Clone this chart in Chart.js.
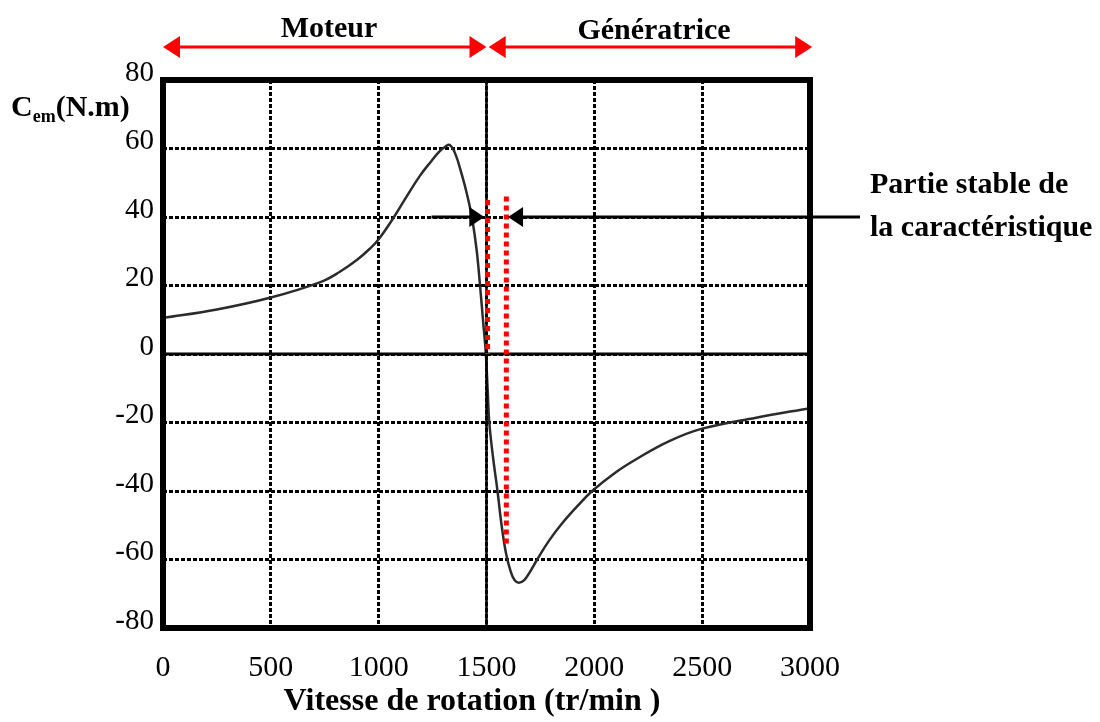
<!DOCTYPE html>
<html>
<head>
<meta charset="utf-8">
<title>Couple électromagnétique</title>
<script src="https://cdn.jsdelivr.net/npm/chart.js@4.4.1/dist/chart.umd.min.js"></script>
<style>
  html, body { margin: 0; padding: 0; background: #fff; }
  #wrap { width: 1100px; height: 722px; }
</style>
</head>
<body>
<div id="wrap"><canvas id="graph1" width="1100" height="722"></canvas></div>
<script>
  const speeds = [0, 250, 500, 730, 820, 900, 960, 1000, 1066, 1130, 1191, 1240, 1280, 1310, 1330, 1355, 1385, 1412,
    1435, 1455, 1470, 1485, 1497, 1505, 1513, 1530, 1551, 1570, 1590, 1612, 1630, 1650, 1675, 1698, 1735,
    1790, 1850, 1920, 1990, 2100, 2200, 2345, 2500, 2750, 3000];
  const torque = [10.5, 13, 16.5, 21, 24, 27.5, 30.8, 33.5, 39.5, 46, 52, 56, 59, 60.6, 61, 58.5, 52.5, 46,
    39, 30, 20, 9, 0, -10, -20, -30, -40, -50, -58, -63.5, -66, -66.8, -66, -64, -60,
    -54.5, -49.5, -44.5, -40, -34.5, -30.5, -25.5, -21.8, -18.6, -15.8];

  const xTicks = [0, 500, 1000, 1500, 2000, 2500, 3000];
  const yTicks = [-80, -60, -40, -20, 0, 20, 40, 60, 80];

  const syncSpeed = 1500;
  // zone stable : entre les deux pointillés rouges
  const stableLeft = { x: 1505, from: 45, to: 0 };
  const stableRight = { x: 1592, from: 46, to: -56 };

  const serif = '"Liberation Serif", "Times New Roman", serif';

  function head(c, x, y, dir, len, half) {
    c.beginPath();
    c.moveTo(x, y);
    c.lineTo(x - dir * len, y - half);
    c.lineTo(x - dir * len, y + half);
    c.closePath();
    c.fill();
  }

  function arrow(c, x1, x2, y, both, len, half) {
    // x2 = pointe ; both = pointes aux deux bouts
    const dir = x2 > x1 ? 1 : -1;
    c.beginPath();
    c.moveTo(both ? x1 + dir * len * 0.5 : x1, y);
    c.lineTo(x2 - dir * len * 0.5, y);
    c.stroke();
    head(c, x2, y, dir, len, half);
    if (both) head(c, x1, y, -dir, len, half);
  }

  const decor = {
    id: 'decor',
    afterDatasetsDraw(chart) {
      const c = chart.ctx;
      const xs = chart.scales.x, ys = chart.scales.y;
      const a = chart.chartArea;
      c.save();

      // axe y = 0 et vitesse de synchronisme
      c.strokeStyle = '#000';
      c.lineWidth = 3;
      c.beginPath();
      c.moveTo(a.left, ys.getPixelForValue(0));
      c.lineTo(a.right, ys.getPixelForValue(0));
      c.stroke();
      c.lineWidth = 2.5;
      c.beginPath();
      c.moveTo(xs.getPixelForValue(syncSpeed), a.top);
      c.lineTo(xs.getPixelForValue(syncSpeed), a.bottom);
      c.stroke();

      // pointillés rouges de la partie stable
      c.strokeStyle = '#ff0000';
      c.lineWidth = 5;
      c.setLineDash([5, 4]);
      [stableLeft, stableRight].forEach(function(l) {
        c.beginPath();
        c.moveTo(xs.getPixelForValue(l.x), ys.getPixelForValue(l.from));
        c.lineTo(xs.getPixelForValue(l.x), ys.getPixelForValue(l.to));
        c.stroke();
      });
      c.setLineDash([]);

      // flèches noires vers la partie stable
      c.strokeStyle = '#000';
      c.fillStyle = '#000';
      c.lineWidth = 3;
      const y40 = ys.getPixelForValue(40);
      arrow(c, xs.getPixelForValue(1245), xs.getPixelForValue(1490), y40, false, 15, 10);
      arrow(c, 860, xs.getPixelForValue(1600), y40, false, 15, 10);

      // cadre
      c.lineWidth = 6;
      c.strokeRect(a.left, a.top, a.right - a.left, a.bottom - a.top);

      // flèches rouges moteur / génératrice
      c.strokeStyle = '#ff0000';
      c.fillStyle = '#ff0000';
      c.lineWidth = 3;
      arrow(c, xs.getPixelForValue(0), xs.getPixelForValue(1500), 47, true, 17, 11);
      arrow(c, xs.getPixelForValue(1510), xs.getPixelForValue(3010), 47, true, 17, 11);

      // textes
      c.fillStyle = '#000';
      c.font = 'bold 30px ' + serif;
      c.textAlign = 'center';
      c.textBaseline = 'alphabetic';
      c.fillText('Moteur', 329, 37);
      c.fillText('Génératrice', 654, 39);

      c.textAlign = 'left';
      c.fillText('Partie stable de', 870, 193);
      c.fillText('la caractéristique', 870, 236);

      c.fillText('C', 11, 116);
      const cw = c.measureText('C').width;
      c.font = 'bold 18px ' + serif;
      c.fillText('em', 11 + cw, 122);
      const ew = c.measureText('em').width;
      c.font = 'bold 30px ' + serif;
      c.fillText('(N.m)', 11 + cw + ew, 116);

      c.textAlign = 'center';
      c.font = 'bold 32px ' + serif;
      c.fillText('Vitesse de rotation (tr/min )', 472, 710);
      c.restore();
    }
  };

  document.addEventListener('DOMContentLoaded', function() {
    const ctx1 = document.getElementById('graph1').getContext('2d');
    new Chart(ctx1, {
      type: 'line',
      data: {
        datasets: [{
          label: 'Cem',
          data: speeds.map(function(v, i) { return { x: v, y: torque[i] }; }),
          borderColor: '#2b2b2b',
          borderWidth: 2.5,
          pointRadius: 0,
          tension: 0.4,
          fill: false
        }]
      },
      options: {
        responsive: false,
        animation: false,
        layout: { padding: { left: 0, right: 290, top: 80, bottom: 0 } },
        plugins: { legend: { display: false }, tooltip: { enabled: false } },
        scales: {
          x: {
            type: 'linear',
            min: 0,
            max: 3000,
            afterBuildTicks: function(s) { s.ticks = xTicks.map(function(v) { return { value: v }; }); },
            afterFit: function(s) { s.height = 94; },
            grid: { color: '#000', lineWidth: 3, drawTicks: false },
            border: { display: false, dash: [4, 2] },
            ticks: {
              color: '#000', padding: 22, maxRotation: 0,
              font: { family: serif, size: 30 },
              callback: function(v) { return String(v); }
            }
          },
          y: {
            min: -80,
            max: 80,
            afterBuildTicks: function(s) { s.ticks = yTicks.map(function(v) { return { value: v }; }); },
            afterFit: function(s) { s.width = 163; },
            grid: { color: '#000', lineWidth: 3, drawTicks: false },
            border: { display: false, dash: [4, 2] },
            ticks: { color: '#000', padding: 9, labelOffset: -7, font: { family: serif, size: 29 } }
          }
        }
      },
      plugins: [decor]
    });
  });
</script>
</body>
</html>
